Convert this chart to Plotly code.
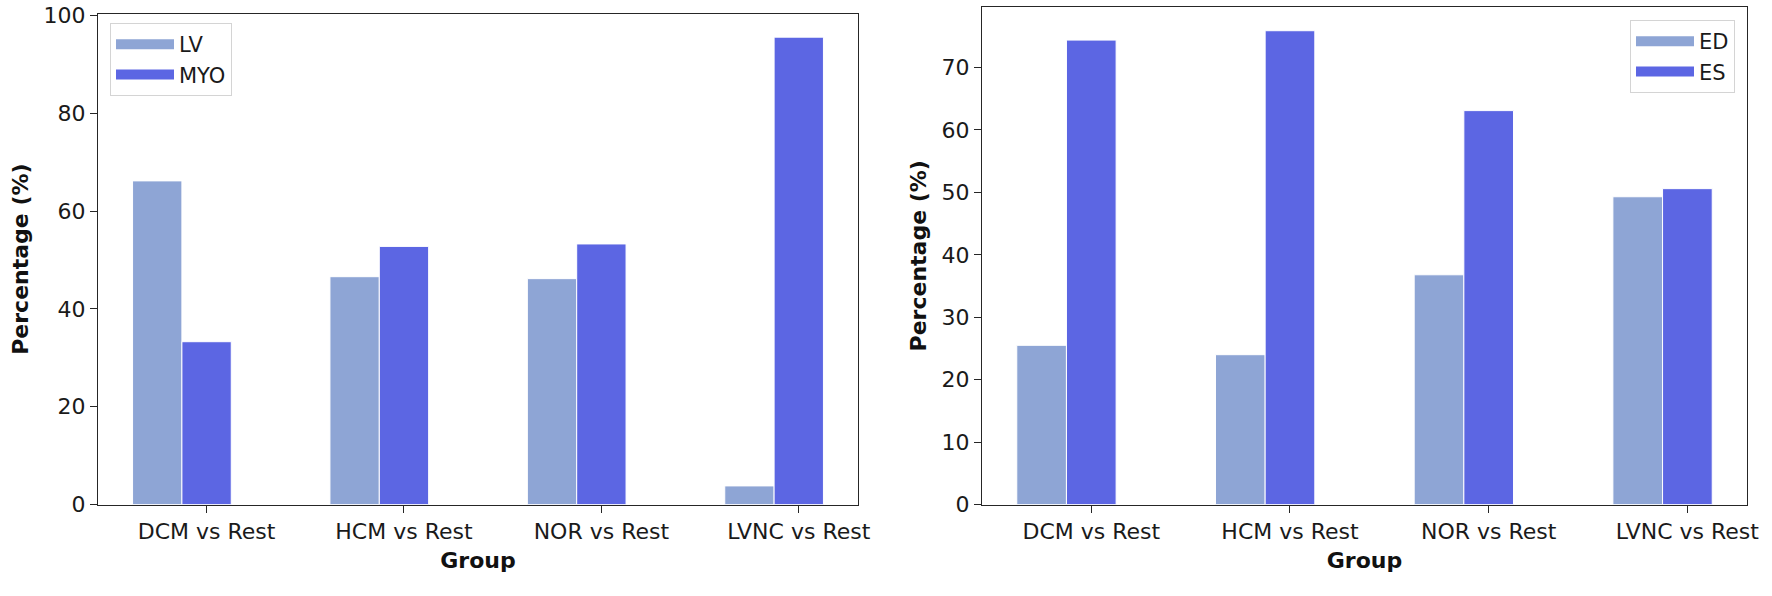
import plotly.graph_objects as go

categories = ["DCM vs Rest", "HCM vs Rest", "NOR vs Rest", "LVNC vs Rest"]
lv_values = [66.2, 46.6, 46.2, 3.8]
myo_values = [33.3, 52.8, 53.3, 95.6]
ed_values = [25.5, 24.0, 36.8, 49.3]
es_values = [74.4, 75.9, 63.1, 50.6]
left_yticks = [0, 20, 40, 60, 80, 100]
right_yticks = [0, 10, 20, 30, 40, 50, 60, 70]

LIGHT = "#8ea5d5"
DARK = "#5c66e3"
FONT = "DejaVu Sans"
AXC = "#262626"
BAR_W = 0.25

fig = go.Figure()


def add_pair(names, vals_a, vals_b, xa, ya, legend):
    for name, vals, col, off in [(names[0], vals_a, LIGHT, -1.5), (names[1], vals_b, DARK, -0.5)]:
        fig.add_trace(go.Bar(x=categories, y=vals, name=name, xaxis=xa, yaxis=ya,
                             width=BAR_W, offset=off * BAR_W, showlegend=False,
                             marker=dict(color=col, line=dict(color="white", width=1))))
        # legend entry drawn as a wide patch (matplotlib-style)
        fig.add_trace(go.Scatter(x=[None], y=[None], mode="lines", name=name,
                                 xaxis=xa, yaxis=ya, legend=legend,
                                 line=dict(color=col, width=13)))


add_pair(["LV", "MYO"], lv_values, myo_values, "x", "y", "legend")
add_pair(["ED", "ES"], ed_values, es_values, "x2", "y2", "legend2")

axis_common = dict(showline=True, linecolor=AXC, linewidth=1.4, mirror=True,
                   ticks="outside", ticklen=7, tickwidth=1.3, tickcolor=AXC,
                   showgrid=False, zeroline=False, automargin=False,
                   tickfont=dict(family=FONT, size=22, color="#1a1a1a"))

xr = [-0.55, 3.3]
title_font = dict(family=FONT, size=22, color="#111")
legend_common = dict(bgcolor="rgba(255,255,255,0.85)", bordercolor="#d4d4d4", borderwidth=1,
                     itemwidth=58, font=dict(family=FONT, size=21, color="#1a1a1a"))
fig.update_layout(
    template="none",
    width=1772, height=596,
    margin=dict(l=0, r=0, t=0, b=0),
    paper_bgcolor="white", plot_bgcolor="white",
    barmode="overlay",
    font=dict(family=FONT, size=21, color="#1a1a1a"),
    xaxis=dict(domain=[98 / 1772, 858 / 1772], anchor="y", type="category",
               categoryorder="array", categoryarray=categories, range=xr,
               title=dict(text="<b>Group</b>", standoff=9, font=title_font),
               **axis_common),
    yaxis=dict(domain=[91.5 / 596, 582.3 / 596], anchor="x", range=[0, 100.4],
               tickmode="array", tickvals=left_yticks,
               title=dict(text="<b>Percentage (%)</b>", standoff=8, font=title_font),
               **axis_common),
    xaxis2=dict(domain=[982 / 1772, 1747 / 1772], anchor="y2", type="category",
                categoryorder="array", categoryarray=categories, range=xr,
                title=dict(text="<b>Group</b>", standoff=9, font=title_font),
                **axis_common),
    yaxis2=dict(domain=[91.5 / 596, 589 / 596], anchor="x2", range=[0, 79.7],
                tickmode="array", tickvals=right_yticks,
                title=dict(text="<b>Percentage (%)</b>", standoff=8, font=title_font),
                **axis_common),
    legend=dict(x=110 / 1772, y=(596 - 23) / 596, xanchor="left", yanchor="top",
                **legend_common),
    legend2=dict(x=1735 / 1772, y=(596 - 20) / 596, xanchor="right", yanchor="top",
                 **legend_common),
)

fig.write_html("out.html", config={"displayModeBar": False},
               post_script="document.body.style.margin='0';document.body.style.overflow='hidden';")
